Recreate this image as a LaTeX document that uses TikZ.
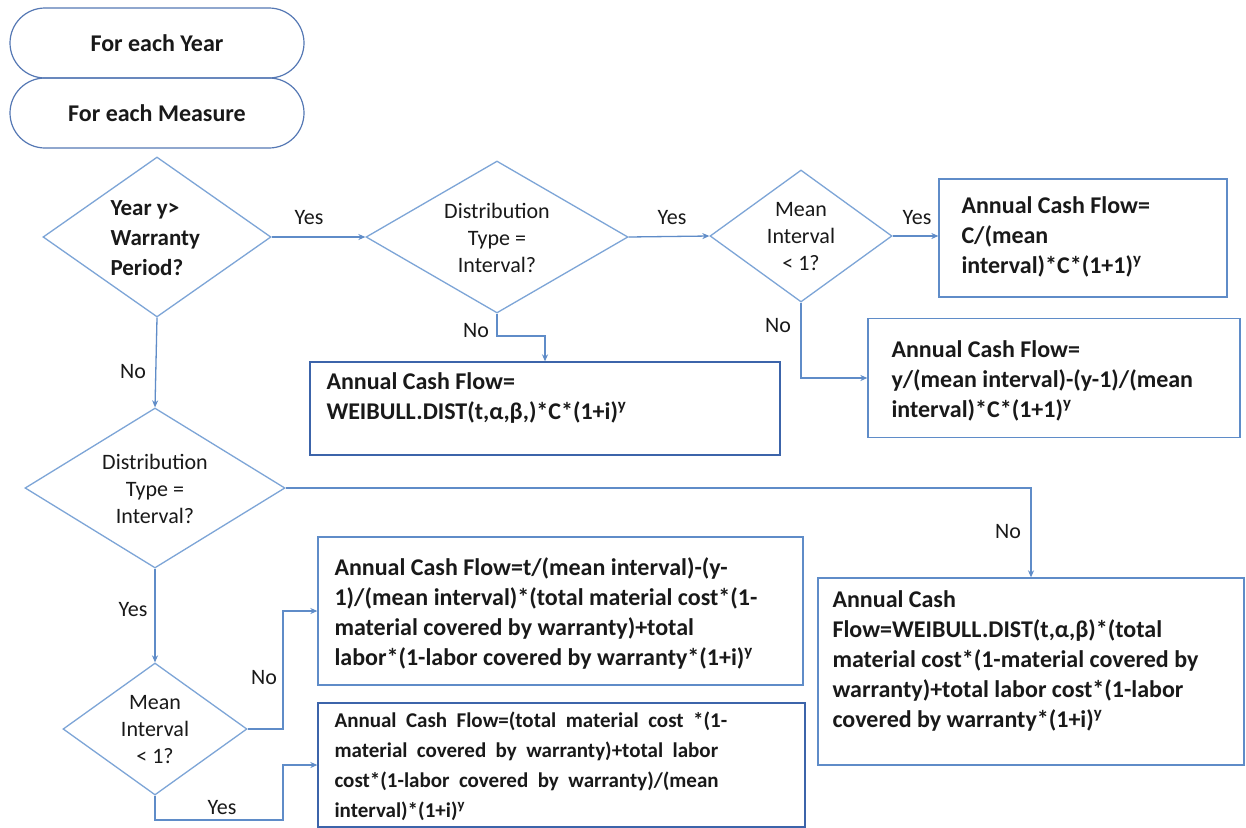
\documentclass[tikz,border=0pt]{standalone}
\usepackage{fontspec}
\setmainfont{Carlito}
\usetikzlibrary{shapes.geometric,arrows.meta}
\definecolor{boxblue}{RGB}{95,140,200}
\definecolor{diablue}{RGB}{125,165,215}
\definecolor{stadblue}{RGB}{85,120,180}
\definecolor{darkblue}{RGB}{60,100,170}
\definecolor{txt}{RGB}{25,25,25}
\newcommand\myWideSpace{\spaceskip 0.45em plus 0.1em\relax}
\begin{document}
\begin{tikzpicture}[x=1pt,y=-1pt,
  every node/.style={text=txt},
  stad/.style={draw=stadblue,line width=1.2pt,rectangle,rounded corners=35pt,minimum width=294pt,minimum height=70pt,font=\fontsize{24}{28}\selectfont\bfseries},
  dia/.style={draw=diablue,line width=1.3pt,diamond,inner sep=0pt},
  diatext/.style={align=center,font=\fontsize{22}{27}\selectfont},
  fbox/.style={draw=boxblue,line width=1.3pt,rectangle,inner sep=0pt},
  btext/.style={align=left,anchor=west,font=\fontsize{24}{30}\selectfont\bfseries},
  lbl/.style={font=\fontsize{22}{26}\selectfont},
  conn/.style={draw=boxblue,line width=1.3pt,-{Stealth[length=7pt,width=6pt]}}]
\useasboundingbox[fill=white] (0,0) rectangle (1246,827);

% start nodes
\node[stad] (s1) at (157,43) {For each Year};
\node[stad] (s2) at (157,113) {For each Measure};

% diamonds
\node[dia,minimum width=228pt,minimum height=160pt] (d1) at (157,237) {};
\node[btext,font=\fontsize{23}{30}\selectfont\bfseries] (t1) at (107,238) {Year y>\\Warranty\\Period?};
\node[dia,minimum width=262pt,minimum height=152pt] (d2) at (497,237) {};
\node[diatext] (t2) at (497,238) {Distribution\\Type =\\Interval?};
\node[dia,minimum width=182pt,minimum height=132pt] (d3) at (801,236) {};
\node[diatext] (t3) at (801,237) {Mean\\Interval\\< 1?};
\node[dia,minimum width=260pt,minimum height=160pt] (d4) at (155,488) {};
\node[diatext] (t4) at (155,489) {Distribution\\Type =\\Interval?};
\node[dia,minimum width=184pt,minimum height=132pt] (d5) at (155,729) {};
\node[diatext] (t5) at (155,730) {Mean\\Interval\\< 1?};

% boxes
\node[fbox,minimum width=288pt,minimum height=118pt] (A) at (1083,238) {};
\node[btext] (tA) at (958,237) {Annual Cash Flow=\\C/(mean\\interval)*C*(1+1)\textsuperscript{y}};
\node[fbox,minimum width=372pt,minimum height=119pt] (B) at (1054,378) {};
\node[btext] (tB) at (888,381) {Annual Cash Flow=\\y/(mean interval)-(y-1)/(mean\\interval)*C*(1+1)\textsuperscript{y}};
\node[fbox,draw=darkblue,minimum width=470pt,minimum height=93pt] (C) at (545,408.5) {};
\node[btext] (tC) at (323,398) {Annual Cash Flow=\\WEIBULL.DIST(t,α,β,)*C*(1+i)\textsuperscript{y}};
\node[fbox,minimum width=426pt,minimum height=187pt] (D) at (1031,671.5) {};
\node[btext] (tD) at (829,661) {Annual Cash\\Flow=WEIBULL.DIST(t,α,β)*(total\\material cost*(1-material covered by\\warranty)+total labor cost*(1-labor\\covered by warranty*(1+i)\textsuperscript{y}};
\node[fbox,minimum width=485pt,minimum height=148pt] (E) at (560.5,611) {};
\node[btext] (tE) at (331,613) {Annual Cash Flow=t/(mean interval)-(y-\\1)/(mean interval)*(total material cost*(1-\\material covered by warranty)+total\\labor*(1-labor covered by warranty*(1+i)\textsuperscript{y}};
\node[fbox,draw=darkblue,minimum width=487pt,minimum height=124pt] (F) at (561.5,765) {};
\node[btext,font={\fontsize{21}{30}\selectfont\bfseries\myWideSpace}] (tF) at (331,766) {Annual Cash Flow=(total material cost *(1-\\material covered by warranty)+total labor\\cost*(1-labor covered by warranty)/(mean\\interval)*(1+i)\textsuperscript{y}};

% junctions
\coordinate (j2) at (497,336);
\coordinate (jE) at (283,729);
\coordinate (jF1) at (155,820);
\coordinate (jF2) at (283,820);

% connectors
\draw[conn] (d1.east) -- (d2.west);
\draw[conn] (d2.east) -- (d3.west);
\draw[conn] (d3.east) -- (d3.east -| A.west);
\draw[conn] (d3.south) |- (B.west);
\draw[conn] (d2.south) -- (j2) -| (C.north);
\draw[conn] (d1.south) -- (d4.north);
\draw[conn] (d4.east) -| (D.north);
\draw[conn] (d4.south) -- (d5.north);
\draw[conn] (d5.east) -- (jE) |- (E.west);
\draw[conn] (d5.south) -- (jF1) -- (jF2) |- (F.west);

% labels
\node[lbl] (lY1) at (309,218) {Yes};
\node[lbl] (lY2) at (672,218) {Yes};
\node[lbl] (lY3) at (917,218) {Yes};
\node[lbl] (lN1) at (778,326) {No};
\node[lbl] (lN2) at (476,331) {No};
\node[lbl] (lN3) at (133,372) {No};
\node[lbl] (lN4) at (1008,532) {No};
\node[lbl] (lY4) at (133,610) {Yes};
\node[lbl] (lN5) at (264,678) {No};
\node[lbl] (lY5) at (222,808) {Yes};
\end{tikzpicture}
\end{document}
